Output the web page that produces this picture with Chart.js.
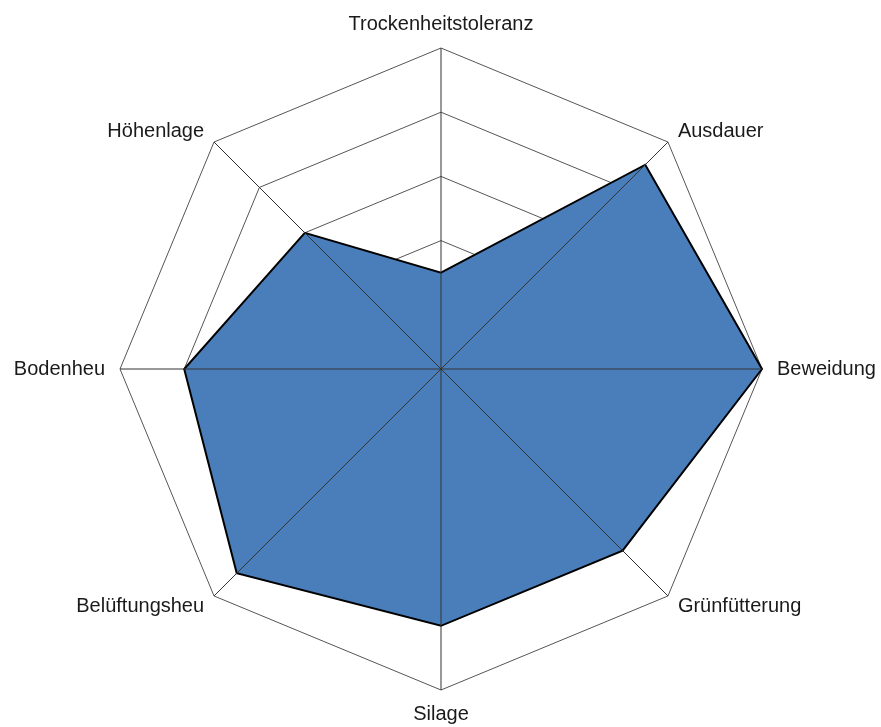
<!DOCTYPE html>
<html>
<head>
<meta charset="utf-8">
<script src="https://cdn.jsdelivr.net/npm/chart.js@4"></script>
<style>
  html, body { margin: 0; padding: 0; background: #fff; }
  #wrap { width: 881px; height: 727px; }
</style>
</head>
<body>
<div id="wrap"><canvas id="chart"></canvas></div>
<script>
const labels = ['Trockenheitstoleranz', 'Ausdauer', 'Beweidung', 'Grünfütterung', 'Silage', 'Belüftungsheu', 'Bodenheu', 'Höhenlage']
const values = [1.5, 4.5, 5, 4, 4, 4.5, 4, 3]
const scaleMin = 0
const scaleMax = 5
const scaleStep = 1

// angle lines have to sit on top of the filled area
const spokesOnTop = {
    id: 'spokesOnTop',
    afterDatasetsDraw(chart) {
        const r = chart.scales.r
        const c = chart.ctx
        c.save()
        c.strokeStyle = '#333'
        c.lineWidth = 1
        for (let i = 0; i < labels.length; i++) {
            const p = r.getPointPositionForValue(i, scaleMax)
            c.beginPath()
            c.moveTo(r.xCenter, r.yCenter)
            c.lineTo(p.x, p.y)
            c.stroke()
        }
        c.restore()
    }
}

// diagonal labels sit beside their corner, not fully above/below it
function labelPadding(c) {
    if (c.index % 2 === 1) return 14
    if (c.index === 2 || c.index === 6) return 15
    return 12
}
function labelFont(c) {
    return {
        family: 'Liberation Sans, Arial, sans-serif',
        size: 20,
        lineHeight: c.index % 2 === 1 ? 0.05 : 1.2
    }
}

const ctx = document.getElementById('chart').getContext('2d')

new Chart(ctx, {
    type: 'radar',
    data: {
        labels: labels,
        datasets: [{
            data: values,
            backgroundColor: '#4a7ebb',
            borderColor: '#000',
            borderWidth: 2,
            pointRadius: 0,
            fill: true
        }]
    },
    options: {
        responsive: true,
        maintainAspectRatio: false,
        animation: false,
        layout: { padding: { top: 12, bottom: -2, left: 10, right: 0 } },
        scales: {
            r: {
                min: scaleMin,
                max: scaleMax,
                ticks: { stepSize: scaleStep, display: false },
                grid: { color: '#555', lineWidth: 1 },
                angleLines: { display: false },
                pointLabels: {
                    color: '#1a1a1a',
                    padding: labelPadding,
                    font: labelFont
                }
            }
        },
        plugins: {
            legend: { display: false },
            tooltip: { enabled: false }
        }
    },
    plugins: [spokesOnTop]
})
</script>
</body>
</html>
